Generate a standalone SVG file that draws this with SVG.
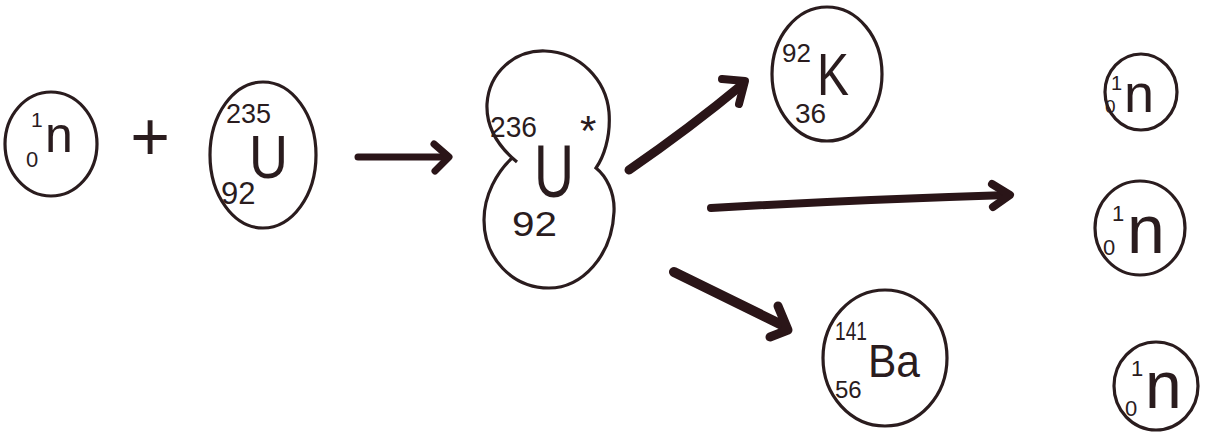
<svg xmlns="http://www.w3.org/2000/svg" width="1208" height="435" viewBox="0 0 1208 435">
  <style>
    .ring { fill: none; stroke: #2a1c1e; stroke-width: 3.2; }
    .ink { fill: #2a1c1e; font-family: "Liberation Sans", Arial, sans-serif; font-weight: normal; }
    .arrow { fill: none; stroke: #2a1518; stroke-linecap: round; stroke-linejoin: round; }
  </style>
  <rect width="1208" height="435" fill="#ffffff"/>

  <!-- incoming neutron -->
  <g id="neutron-in">
    <ellipse class="ring" cx="51" cy="144" rx="46" ry="52"/>
    <text class="ink" x="31" y="127" font-size="21">1</text>
    <text class="ink" x="26" y="167" font-size="22">0</text>
    <text class="ink" x="45" y="152" font-size="50">n</text>
  </g>

  <g id="plus">
    <text class="ink" x="150" y="160" font-size="68" font-weight="bold" text-anchor="middle">+</text>
  </g>

  <!-- uranium-235 target -->
  <g id="uranium-235">
    <ellipse class="ring" cx="263" cy="155" rx="53" ry="73"/>
    <text class="ink" x="226" y="123" font-size="27">235</text>
    <text class="ink" x="249" y="178" font-size="62" textLength="39" lengthAdjust="spacingAndGlyphs">U</text>
    <text class="ink" x="221" y="204" font-size="31">92</text>
  </g>

  <!-- excited compound nucleus -->
  <g id="uranium-236">
    <path class="ring" d="M517,162 C500,148 486,128 487,104 C489,72 515,50 545,51 C580,52 606,80 609,112 C611,138 603,158 596,168 C606,176 615,192 614,212 C612,256 582,288 549,288 C512,288 484,258 484,220 C484,195 497,172 512,158"/>
    <text class="ink" x="490" y="137" font-size="29" textLength="47" lengthAdjust="spacingAndGlyphs">236</text>
    <text class="ink" x="580" y="145" font-size="42">*</text>
    <text class="ink" x="534" y="197" font-size="74" textLength="40" lengthAdjust="spacingAndGlyphs">U</text>
    <text class="ink" x="512" y="236" font-size="35" textLength="45" lengthAdjust="spacingAndGlyphs">92</text>
  </g>

  <!-- krypton fragment -->
  <g id="krypton-92">
    <ellipse class="ring" cx="827" cy="74" rx="55" ry="67"/>
    <text class="ink" x="782" y="62" font-size="26">92</text>
    <text class="ink" x="817" y="95" font-size="60" textLength="32" lengthAdjust="spacingAndGlyphs">K</text>
    <text class="ink" x="795" y="123" font-size="28">36</text>
  </g>

  <!-- barium fragment -->
  <g id="barium-141">
    <ellipse class="ring" cx="885" cy="358" rx="62" ry="68"/>
    <text class="ink" x="835" y="340" font-size="26" textLength="32" lengthAdjust="spacingAndGlyphs">141</text>
    <text class="ink" x="868" y="377" font-size="46" textLength="52" lengthAdjust="spacingAndGlyphs">Ba</text>
    <text class="ink" x="835" y="398" font-size="24">56</text>
  </g>

  <!-- released neutrons -->
  <g id="neutron-out-1">
    <ellipse class="ring" cx="1141" cy="92" rx="36" ry="38"/>
    <text class="ink" x="1111" y="90" font-size="20">1</text>
    <text class="ink" x="1105" y="113" font-size="19">0</text>
    <text class="ink" x="1124" y="112" font-size="54">n</text>
  </g>
  <g id="neutron-out-2">
    <ellipse class="ring" cx="1140" cy="228" rx="45" ry="47"/>
    <text class="ink" x="1112" y="221" font-size="22">1</text>
    <text class="ink" x="1103" y="255" font-size="22">0</text>
    <text class="ink" x="1127" y="253" font-size="68">n</text>
  </g>
  <g id="neutron-out-3">
    <ellipse class="ring" cx="1156" cy="386" rx="42" ry="44"/>
    <text class="ink" x="1131" y="376" font-size="22">1</text>
    <text class="ink" x="1125" y="416" font-size="22">0</text>
    <text class="ink" x="1145" y="408" font-size="66">n</text>
  </g>

  <!-- reaction arrows -->
  <g id="connectors">
    <path class="arrow" stroke-width="7" d="M358,157 L447,157"/>
    <polyline class="arrow" stroke-width="7" points="434,144 449,157 435,171"/>

    <path class="arrow" stroke-width="9" d="M629,170 Q690,128 743,84"/>
    <polyline class="arrow" stroke-width="8" points="722,79 745,81 739,104"/>

    <path class="arrow" stroke-width="8" d="M711,208 Q850,200 1008,195"/>
    <polyline class="arrow" stroke-width="8" points="992,184 1010,195 993,207"/>

    <path class="arrow" stroke-width="10" d="M674,272 L784,326"/>
    <polyline class="arrow" stroke-width="9" points="778,306 788,330 770,337"/>
  </g>
</svg>
